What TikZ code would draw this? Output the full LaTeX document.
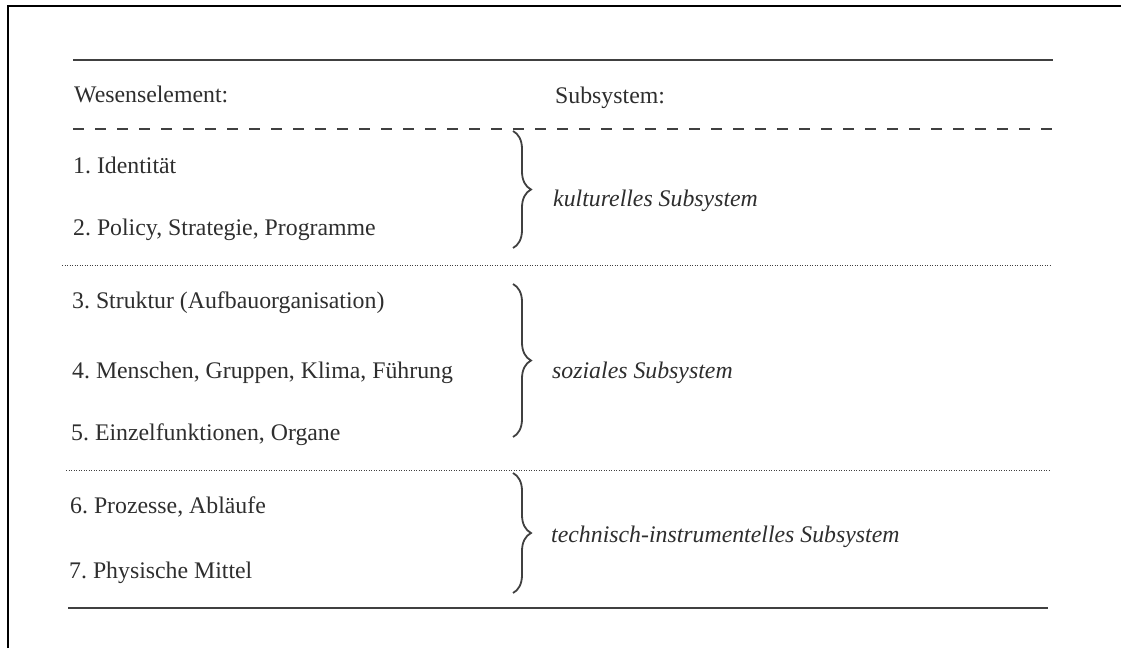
\documentclass[tikz,border=0pt]{standalone}
\usepackage{fontspec}
\setmainfont{Liberation Serif}
\usetikzlibrary{decorations.pathreplacing}
\definecolor{ink}{HTML}{2E2E2E}
\definecolor{rule}{HTML}{404040}
\frenchspacing
\begin{document}
\begin{tikzpicture}[x=1pt,y=-1pt,
  txt/.style={anchor=base west,inner sep=0pt,text=ink,font=\fontsize{23.8}{28}\selectfont\frenchspacing},
  sub/.style={txt,font=\fontsize{23.8}{28}\selectfont\itshape},
  solidrule/.style={draw=rule,line width=2.2pt},
  dashrule/.style={draw=rule,line width=1.7pt,dash pattern=on 11pt off 11pt},
  dotrule/.style={draw=rule,line width=1pt,dash pattern=on 1.1pt off 1.4pt},
  bracestyle/.style={draw=rule,line width=1.8pt,decorate,decoration={brace,amplitude=18pt}},
  frame/.style={draw=black,line width=1.8pt}]
\useasboundingbox (0,0) rectangle (1121,648);
% outer frame (left and top edges)
\coordinate (fbl) at (8,648);
\coordinate (ftl) at (8,6);
\coordinate (ftr) at (1121,6);
\draw[frame] (fbl) -- (ftl) -- (ftr);
% rules
\coordinate (r1a) at (73,60);  \coordinate (r1b) at (1053,60);
\coordinate (r2a) at (73,129); \coordinate (r2b) at (1053,129);
\coordinate (r3a) at (62,265); \coordinate (r3b) at (1050,265);
\coordinate (r4a) at (66,470); \coordinate (r4b) at (1050,470);
\coordinate (r5a) at (68,608); \coordinate (r5b) at (1048,608);
\draw[solidrule] (r1a) -- (r1b);
\draw[dashrule] (r2a) -- (r2b);
\draw[dotrule] (r3a) -- (r3b);
\draw[dotrule] (r4a) -- (r4b);
\draw[solidrule] (r5a) -- (r5b);
% headers
\node[txt] (hw) at (74,102) {Wesenselement:};
\node[txt] (hs) at (555,103) {Subsystem:};
% items
\node[txt] (i1) at (73,173) {1. Identität};
\node[txt] (i2) at (73,235) {2. Policy, Strategie, Programme};
\node[txt] (i3) at (72,308) {3. Struktur (Aufbauorganisation)};
\node[txt] (i4) at (72,378) {4. Menschen, Gruppen, Klima, Führung};
\node[txt] (i5) at (71,440) {5. Einzelfunktionen, Organe};
\node[txt] (i6) at (70,513) {6. Prozesse, Abläufe};
\node[txt] (i7) at (69,578) {7. Physische Mittel};
% braces
\coordinate (b1t) at (513,131); \coordinate (b1b) at (513,248);
\coordinate (b2t) at (513,284); \coordinate (b2b) at (513,437);
\coordinate (b3t) at (513,473); \coordinate (b3b) at (513,593);
\draw[bracestyle] (b1t) -- (b1b);
\draw[bracestyle] (b2t) -- (b2b);
\draw[bracestyle] (b3t) -- (b3b);
% subsystem labels
\node[sub] (s1) at (553,206) {kulturelles Subsystem};
\node[sub] (s2) at (552,378) {soziales Subsystem};
\node[sub] (s3) at (551,542) {technisch-instrumentelles Subsystem};
\end{tikzpicture}
\end{document}
